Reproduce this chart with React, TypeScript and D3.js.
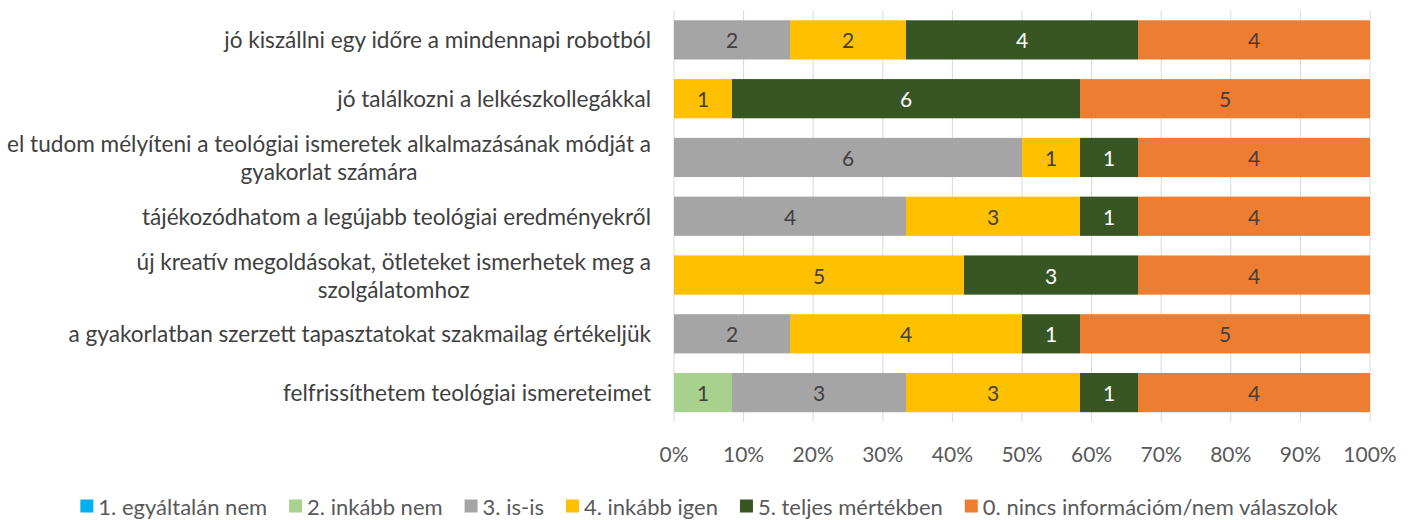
import React, { useEffect, useRef } from "react";
import * as d3 from "d3";

const categories: string[][] = [
  ["jó kiszállni egy időre a mindennapi robotból"],
  ["jó találkozni a lelkészkollegákkal"],
  ["el tudom mélyíteni a teológiai ismeretek alkalmazásának módját a", "gyakorlat számára"],
  ["tájékozódhatom a legújabb teológiai eredményekről"],
  ["új kreatív megoldásokat, ötleteket ismerhetek meg a", "szolgálatomhoz"],
  ["a gyakorlatban szerzett tapasztatokat szakmailag értékeljük"],
  ["felfrissíthetem teológiai ismereteimet"],
];

const seriesNames = [
  "1. egyáltalán nem",
  "2. inkább nem",
  "3. is-is",
  "4. inkább igen",
  "5. teljes mértékben",
  "0. nincs információm/nem válaszolok",
];
const seriesColors = ["#00B0F0", "#A9D18E", "#A5A5A5", "#FFC000", "#375623", "#ED7D31"];
const labelColors = ["#404040", "#404040", "#404040", "#404040", "#FFFFFF", "#404040"];

const s1 = [0, 0, 0, 0, 0, 0, 0];
const s2 = [0, 0, 0, 0, 0, 0, 1];
const s3 = [2, 0, 6, 4, 0, 2, 3];
const s4 = [2, 1, 1, 3, 5, 4, 3];
const s5 = [4, 6, 1, 1, 3, 1, 1];
const s0 = [4, 5, 4, 4, 4, 5, 4];
const seriesValues = [s1, s2, s3, s4, s5, s0];

const ticks = [0, 0.1, 0.2, 0.3, 0.4, 0.5, 0.6, 0.7, 0.8, 0.9, 1];

const FONT = "Lato, 'Open Sans', sans-serif";

export default function App() {
  const ref = useRef<SVGSVGElement>(null);
  useEffect(() => {
    const svg = d3.select(ref.current);
    svg.selectAll("*").remove();
    const W = 1416;
    const x = d3.scaleLinear().domain([0, 1]).range([674, 1370]);
    const y = d3.scaleBand().domain(categories.map((_, i) => String(i))).range([10.5, 422]).paddingInner(0.333).paddingOuter(0.1665);

    // gridlines
    svg.append("g").selectAll("line").data(ticks).join("line")
      .attr("x1", d => x(d)).attr("x2", d => x(d))
      .attr("y1", 10.5).attr("y2", 422)
      .attr("stroke", "#D9D9D9").attr("stroke-width", 1);

    // stacks
    const totals = categories.map((_, i) => d3.sum(seriesValues, s => s[i]));
    const g = svg.append("g");
    categories.forEach((_, i) => {
      let acc = 0;
      seriesValues.forEach((s, k) => {
        const v = s[i];
        const x0 = acc / totals[i];
        acc += v;
        const x1 = acc / totals[i];
        if (v <= 0) return;
        const yy = y(String(i))!;
        g.append("rect")
          .attr("x", x(x0)).attr("width", x(x1) - x(x0))
          .attr("y", yy).attr("height", y.bandwidth())
          .attr("fill", seriesColors[k]);
        g.append("text")
          .attr("x", (x(x0) + x(x1)) / 2).attr("y", yy + y.bandwidth() / 2)
          .attr("text-anchor", "middle").attr("dominant-baseline", "central")
          .attr("font-family", FONT).attr("font-size", 21)
          .attr("fill", labelColors[k]).text(String(v));
      });
    });

    // x tick labels
    svg.append("g").selectAll("text").data(ticks).join("text")
      .attr("x", d => x(d)).attr("y", 453)
      .attr("text-anchor", "middle").attr("dominant-baseline", "central")
      .attr("font-family", FONT).attr("font-size", 21).attr("fill", "#595959")
      .text(d => d3.format(".0%")(d));

    // category labels
    const cg = svg.append("g");
    categories.forEach((lines, i) => {
      const cy = y(String(i))! + y.bandwidth() / 2;
      const tmp = lines.map(l => cg.append("text")
        .attr("font-family", FONT).attr("font-size", 22.6).attr("fill", "#404040")
        .attr("dominant-baseline", "central").attr("text-anchor", "middle").text(l));
      const widths = tmp.map(t => (t.node() as SVGTextElement).getComputedTextLength());
      const bw = d3.max(widths)!;
      const cx = 651 - bw / 2;
      const lh = 28;
      tmp.forEach((t, j) => {
        t.attr("x", cx).attr("y", cy + (j - (lines.length - 1) / 2) * lh);
      });
    });

    // legend
    const lg = svg.append("g");
    const items = seriesNames.map((n, k) => {
      const grp = lg.append("g");
      grp.append("rect").attr("x", 0).attr("y", -6.5).attr("width", 13).attr("height", 13).attr("fill", seriesColors[k]);
      const t = grp.append("text").attr("x", 18).attr("y", 0).attr("dominant-baseline", "central")
        .attr("font-family", FONT).attr("font-size", 22).attr("fill", "#595959").text(n);
      const w = 18 + (t.node() as SVGTextElement).getComputedTextLength();
      return { grp, w };
    });
    const gap = 22;
    const total = d3.sum(items, d => d.w) + gap * (items.length - 1);
    let cur = (W - total) / 2 + 1;
    items.forEach(it => { it.grp.attr("transform", `translate(${cur},506)`); cur += it.w + gap; });
  }, []);
  return (
    <svg ref={ref} width={1416} height={520} style={{ display: "block", position: "absolute", left: 0, top: 0, background: "#fff" }} />
  );
}
